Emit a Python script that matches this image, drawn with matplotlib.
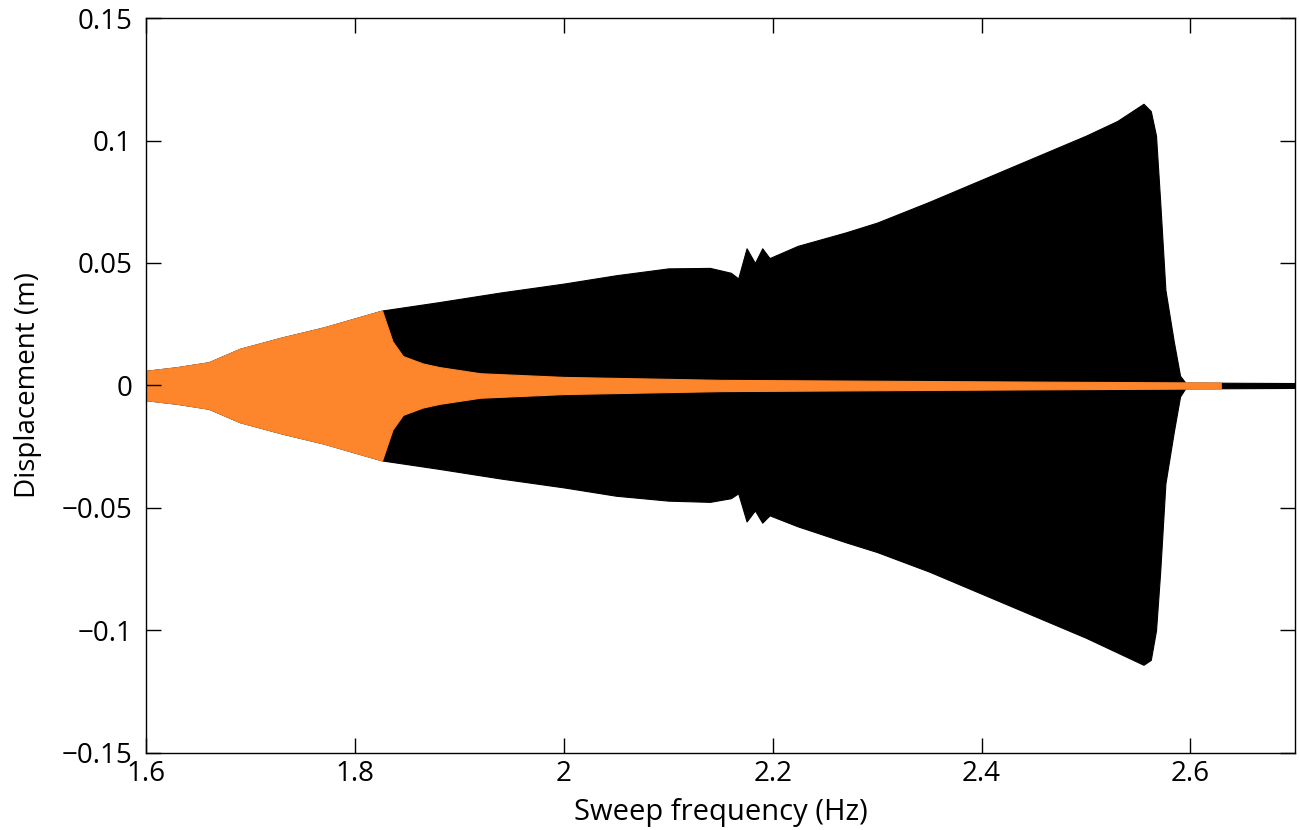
"""Sweep response: displacement envelope vs sweep frequency."""

import matplotlib
matplotlib.use("Agg")
import matplotlib.pyplot as plt

plt.rcParams.update({"font.family": ["Open Sans", "DejaVu Sans"], "font.size": 19})

# black response envelope (Hz, m)
black_f = [1.60, 1.63, 1.66, 1.69, 1.73, 1.77, 1.826, 1.88, 1.94, 2.00, 2.05,
           2.10, 2.14, 2.160, 2.167, 2.175, 2.183, 2.190, 2.197, 2.224, 2.27,
           2.30, 2.35, 2.40, 2.45, 2.50, 2.53, 2.555, 2.562, 2.567, 2.571,
           2.576, 2.584, 2.590, 2.595, 2.70]
black_up = [0.0060, 0.0075, 0.0095, 0.0150, 0.0196, 0.0237, 0.0306, 0.0340,
            0.0380, 0.0416, 0.0450, 0.0478, 0.0480, 0.0460, 0.0437, 0.0560,
            0.0500, 0.0560, 0.0520, 0.0570, 0.0625, 0.0665, 0.0750, 0.0840,
            0.0930, 0.1020, 0.1080, 0.1150, 0.1120, 0.1020, 0.0750, 0.0390,
            0.0180, 0.0040, 0.0012, 0.0010]
black_lo = [-0.0060, -0.0075, -0.0095, -0.0150, -0.0196, -0.0237, -0.0306,
            -0.0340, -0.0380, -0.0416, -0.0450, -0.0470, -0.0475, -0.0460,
            -0.0440, -0.0555, -0.0510, -0.0560, -0.0530, -0.0575, -0.0640,
            -0.0680, -0.0760, -0.0850, -0.0940, -0.1030, -0.1090, -0.1140,
            -0.1120, -0.1000, -0.0760, -0.0400, -0.0190, -0.0045, -0.0012,
            -0.0010]

# orange response envelope (Hz, m)
orange_f = [1.60, 1.63, 1.66, 1.69, 1.73, 1.77, 1.826, 1.836, 1.846, 1.865,
            1.881, 1.92, 2.00, 2.15, 2.40, 2.629]
orange_amp = [0.0060, 0.0075, 0.0095, 0.0150, 0.0196, 0.0237, 0.0306, 0.0180,
              0.0120, 0.0090, 0.0075, 0.0050, 0.0035, 0.0023, 0.0017, 0.0012]

fig = plt.figure(figsize=(13, 8.3), dpi=100)
ax = fig.add_axes([0.1123, 0.0928, 0.8838, 0.8855])

ax.fill_between(black_f, black_lo, black_up, color="black", lw=0.8)
ax.fill_between(orange_f, [-a for a in orange_amp], orange_amp,
                color="#fd862c", lw=0.8, edgecolor="#fd862c")

ax.set_xlim(1.6, 2.7)
ax.set_ylim(-0.15, 0.15)
ax.set_xticks([1.6, 1.8, 2.0, 2.2, 2.4, 2.6])
ax.set_xticklabels(["1.6", "1.8", "2", "2.2", "2.4", "2.6"])
ax.set_yticks([-0.15, -0.1, -0.05, 0, 0.05, 0.1, 0.15])
ax.set_yticklabels(["\u22120.15", "\u22120.1", "\u22120.05", "0", "0.05",
                    "0.1", "0.15"])
ax.tick_params(direction="in", length=11, width=1, top=True, right=True,
               labelsize=20)
ax.tick_params(axis="x", pad=5)
ax.tick_params(axis="y", pad=10)
for s in ax.spines.values():
    s.set_linewidth(1)

ax.set_xlabel("Sweep frequency (Hz)", fontsize=21, labelpad=7)
ax.set_ylabel("Displacement (m)", fontsize=20, labelpad=14)

fig.savefig("out.png", dpi=100)
